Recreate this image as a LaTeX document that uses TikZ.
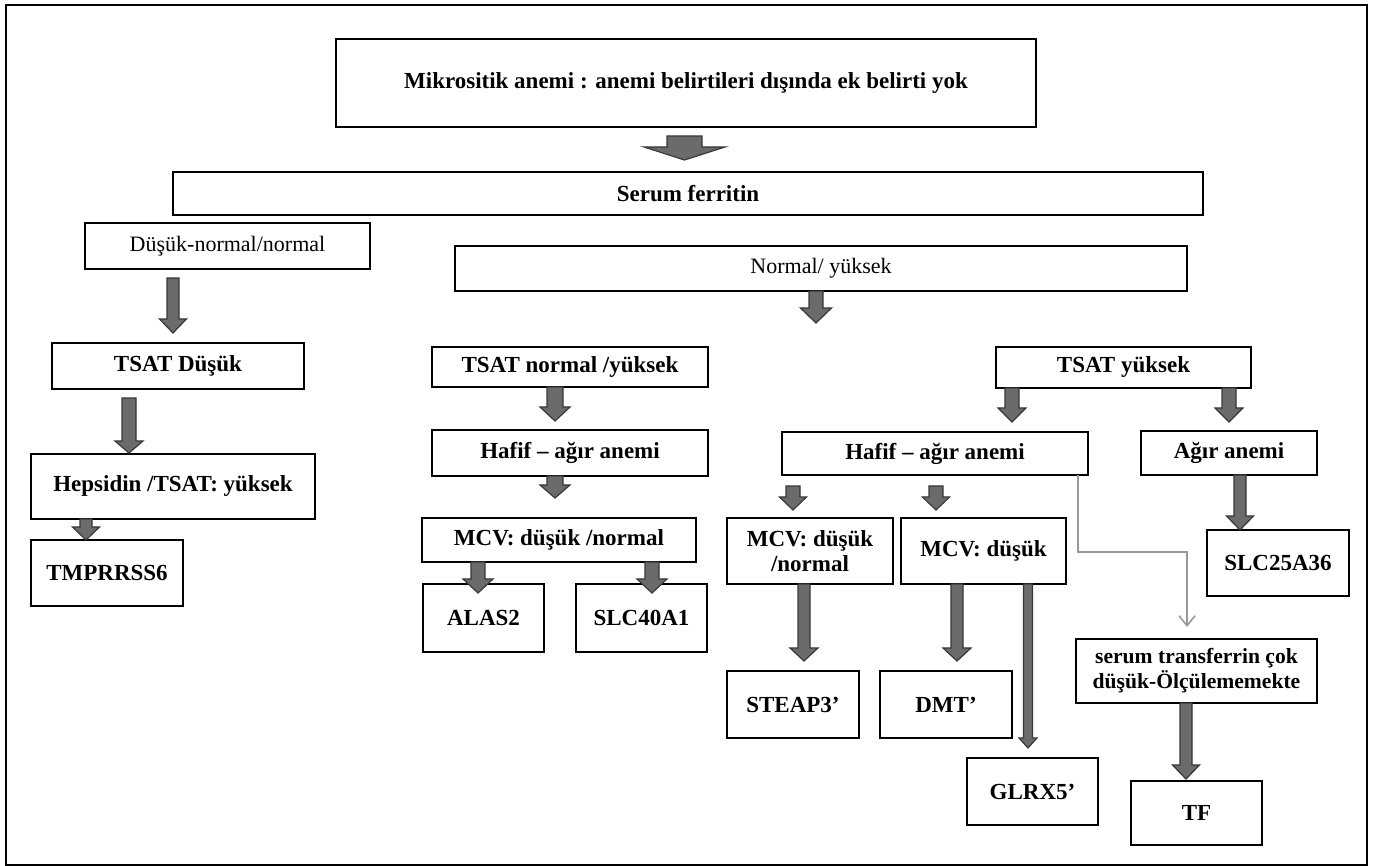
\documentclass[tikz,border=0pt]{standalone}
\usepackage{fontspec}
\setmainfont{Liberation Serif}
\usetikzlibrary{positioning,calc,arrows.meta}

\tikzset{
  box/.style={draw, line width=1.2pt, fill=white, inner sep=2pt, outer sep=0pt, align=center,
    font=\fontsize{11.5}{12.5}\selectfont\bfseries},
  plainbox/.style={box, font=\fontsize{11}{12}\selectfont},
  blockarrow/.style={fill=black!58, draw=black!78, line width=0.6pt, line join=miter},
  greyline/.style={draw=black!40, line width=0.8pt, -{Straight Barb[length=5pt,width=8pt]}},
}

% block arrow: start (x and y), tip (y), shaft width, head width, head length
\newcommand{\barrow}[5]{%
  \filldraw[blockarrow] let \p1=(#1), \p2=(#2) in
    (\x1-#3/2,\y1) -- (\x1+#3/2,\y1) -- (\x1+#3/2,\y2+#5) -- (\x1+#4/2,\y2+#5)
    -- (\x1,\y2) -- (\x1-#4/2,\y2+#5) -- (\x1-#3/2,\y2+#5) -- cycle;}

\begin{document}
\begin{tikzpicture}

% frame
\useasboundingbox (0,0) rectangle (686.5pt,-433pt);
\draw[line width=0.7pt] (3pt,-2.5pt) rectangle (683.5pt,-432.5pt);

% define nodes

% top
\node[box, line width=0.9pt, minimum width=350pt, minimum height=44pt] (mikro) at (343pt,-41.5pt) {Mikrositik anemi : anemi belirtileri dışında ek belirti yok};
\node[box, line width=0.9pt, below=22.5pt of mikro, xshift=1pt, minimum width=515pt, minimum height=21.5pt] (serum) {Serum ferritin};
\node[plainbox, below=4pt of serum, xshift=-230.25pt, minimum width=142.5pt, minimum height=23pt] (dusukn) {Düşük-normal/normal};
\node[plainbox, below=15.5pt of serum, xshift=66.5pt, minimum width=366pt, minimum height=22.5pt] (normy) {Normal/ yüksek};
% left branch
\node[box, below=37pt of dusukn, xshift=-24.75pt, minimum width=126pt, minimum height=23pt] (tsatd) {TSAT Düşük};
\node[box, below=32.5pt of tsatd, xshift=-2.5pt, minimum width=142pt, minimum height=32.5pt] (heps) {Hepsidin /TSAT: yüksek};
\node[box, below=10.5pt of heps, xshift=-33pt, minimum width=76pt, minimum height=33pt] (tmp) {TMPRRSS6};
% middle branch
\node[box, below=28pt of normy, xshift=-125.5pt, minimum width=138pt, minimum height=20pt] (tsatn) {TSAT normal /yüksek};
\node[box, below=21.5pt of tsatn, minimum width=138pt, minimum height=23pt] (hafifa) {Hafif – ağır anemi};
\node[box, below=21pt of hafifa, xshift=-5.5pt, minimum width=137pt, minimum height=22pt] (mcva) {MCV: düşük /normal};
\node[box, below=11pt of mcva, xshift=-37.75pt, minimum width=60.5pt, minimum height=34pt] (alas) {ALAS2};
\node[box, below=11pt of mcva, xshift=41.25pt, minimum width=65.5pt, minimum height=34pt] (slcb) {SLC40A1};
% right branch
\node[box, below=28pt of normy, xshift=151.25pt, minimum width=127.5pt, minimum height=20.5pt] (tsaty) {TSAT yüksek};
\node[box, below=22pt of tsaty, xshift=-94.25pt, minimum width=153pt, minimum height=21.5pt] (hafifb) {Hafif – ağır anemi};
\node[box, below=21.5pt of tsaty, xshift=52.75pt, minimum width=88pt, minimum height=22pt] (agir) {Ağır anemi};
\node[box, below=27.5pt of agir, xshift=24.5pt, minimum width=71pt, minimum height=33pt] (slcc) {SLC25A36};
\node[box, below=21.5pt of hafifb, xshift=-62.5pt, minimum width=83pt, minimum height=33pt] (mcvb) {MCV: düşük\\/normal};
\node[box, below=21.5pt of hafifb, xshift=24.25pt, minimum width=82.5pt, minimum height=33pt] (mcvc) {MCV: düşük};
\node[box, below=43.5pt of mcvb, xshift=-8.5pt, minimum width=66pt, minimum height=33.5pt] (steap) {STEAP3’};
\node[box, below=43.5pt of mcvc, xshift=-18.75pt, minimum width=66pt, minimum height=33.5pt] (dmt) {DMT’};
\node[box, below=87pt of mcvc, xshift=24.5pt, minimum width=65.5pt, minimum height=33.5pt] (glrx) {GLRX5’};
\node[box, below=21.5pt of slcc, xshift=-40.75pt, minimum width=120.5pt, minimum height=32pt, font=\fontsize{10.8}{12.5}\selectfont\bfseries] (strans) {serum transferrin çok\\düşük-Ölçülememekte};
\node[box, below=39pt of strans, minimum width=65.5pt, minimum height=32pt] (tf) {TF};

% edges

\barrow{[xshift=-0.75pt,yshift=-4.5pt]mikro.south}{[yshift=6pt]serum.north}{17.5pt}{40.5pt}{6.5pt}
\barrow{[xshift=-27.25pt,yshift=-4.5pt]dusukn.south}{[yshift=5pt]tsatd.north}{6pt}{13.5pt}{7pt}
\barrow{[xshift=-24.5pt,yshift=-4.5pt]tsatd.south}{[yshift=0.5pt]heps.north}{7pt}{14pt}{6pt}
\barrow{[xshift=-43.5pt]heps.south}{tmp.north}{6pt}{13.5pt}{6.5pt}
\barrow{[xshift=-2.5pt]normy.south}{[yshift=-16pt]normy.south}{7pt}{15.5pt}{7.5pt}
\barrow{[xshift=-7.5pt]tsatn.south}{[yshift=4.5pt]hafifa.north}{8pt}{15pt}{7pt}
\barrow{[xshift=-7.5pt]hafifa.south}{[yshift=10pt]mcva.north}{8pt}{15pt}{6.5pt}
\barrow{[xshift=-40.5pt]mcva.south}{[yshift=-4.5pt]alas.north}{7pt}{15pt}{7pt}
\barrow{[xshift=46.5pt]mcva.south}{[yshift=-4.5pt]slcb.north}{7pt}{15pt}{7pt}
\barrow{[xshift=-55.75pt]tsaty.south}{[yshift=5pt]hafifb.north}{7pt}{14pt}{7pt}
\barrow{[xshift=52.75pt]tsaty.south}{[yshift=4.5pt]agir.north}{7pt}{14pt}{7pt}
\barrow{[xshift=-71pt,yshift=-5.5pt]hafifb.south}{[yshift=4pt]mcvb.north}{7pt}{13.5pt}{6.5pt}
\barrow{[xshift=0.5pt,yshift=-5.5pt]hafifb.south}{[yshift=4pt]mcvc.north}{7pt}{13.5pt}{6.5pt}
\barrow{[xshift=-3pt]mcvb.south}{[yshift=5pt]steap.north}{6pt}{14pt}{6.5pt}
\barrow{[xshift=-13.25pt]mcvc.south}{[yshift=5pt]dmt.north}{6pt}{14pt}{6.5pt}
\barrow{[xshift=22.25pt]mcvc.south}{[yshift=5pt]glrx.north}{4.5pt}{9pt}{5pt}
\barrow{[xshift=5.5pt]agir.south}{slcc.north}{6pt}{13.5pt}{7pt}
\barrow{[xshift=-5.25pt]strans.south}{[yshift=1pt]tf.north}{6pt}{13.5pt}{7pt}
\draw[greyline] ([xshift=71.5pt]hafifb.south) -- ++(0,-38.5pt) -| ([xshift=-4.75pt,yshift=6pt]strans.north);

\end{tikzpicture}
\end{document}
